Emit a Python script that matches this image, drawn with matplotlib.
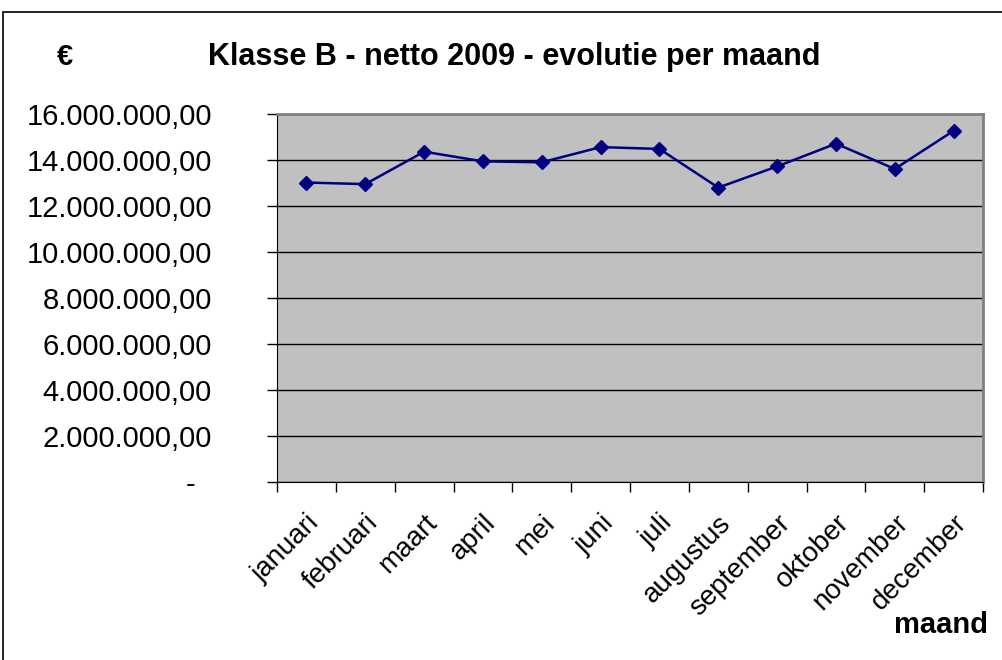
import matplotlib.pyplot as plt
from matplotlib.ticker import FuncFormatter, FixedLocator

plt.rcParams['font.family'] = ['Liberation Sans', 'DejaVu Sans']

maanden = ['januari', 'februari', 'maart', 'april', 'mei', 'juni', 'juli',
           'augustus', 'september', 'oktober', 'november', 'december']
netto = [13020000, 12950000, 14360000, 13940000, 13900000, 14560000,
         14480000, 12800000, 13720000, 14710000, 13610000, 15270000]
y_ticks = [0, 2000000, 4000000, 6000000, 8000000, 10000000, 12000000, 14000000, 16000000]


def euro_fmt(v, pos):
    # excel accounting style: 16.000.000,00 and "-" for zero
    if v == 0:
        return '-  '
    s = '{:,.2f}'.format(v)
    return s.replace(',', 'X').replace('.', ',').replace('X', '.')


fig = plt.figure(figsize=(10.03, 6.6), dpi=100)
# outer chart border
fig.patches.append(plt.Rectangle((0.003, -0.01), 1.2, 0.992, transform=fig.transFigure,
                                 fill=False, edgecolor='black', linewidth=1.2))

ax = fig.add_axes([0.2762, 0.2697, 0.7039, 0.5576])
ax.set_facecolor('#c0c0c0')
x = list(range(len(maanden)))
ax.plot(x, netto, color='#000080', linewidth=1.8, marker='D', markersize=7.5, zorder=3)

ax.set_xlim(-0.5, len(maanden) - 0.5)
ax.set_ylim(0, 16000000)
ax.set_yticks(y_ticks)
ax.yaxis.set_major_formatter(FuncFormatter(euro_fmt))
ax.yaxis.grid(True, color='black', linewidth=1)
ax.set_axisbelow(True)

ax.xaxis.set_major_locator(FixedLocator([i - 0.5 for i in range(len(maanden) + 1)]))
ax.xaxis.set_major_formatter(FuncFormatter(lambda v, p: ''))
ax.xaxis.set_minor_locator(FixedLocator(x))
ax.set_xticklabels(maanden, minor=True, rotation=45, ha='right', rotation_mode='anchor')
ax.tick_params(axis='x', which='major', length=7, width=1, direction='out', color='black')
ax.tick_params(axis='x', which='minor', length=0, pad=20, labelsize=20)
ax.tick_params(axis='y', length=7, width=1, direction='out', labelsize=21, pad=40)

for side in ['top', 'right']:
    ax.spines[side].set_color('#808080')
    ax.spines[side].set_linewidth(2)
ax.spines['left'].set_color('black')
ax.spines['bottom'].set_color('black')

fig.text(0.5125, 0.9015, 'Klasse B - netto 2009 - evolutie per maand', ha='center', va='baseline',
         fontsize=22, fontweight='bold')
fig.text(0.065, 0.9015, '€', ha='center', va='baseline', fontsize=21, fontweight='bold')
fig.text(0.985, 0.041, 'maand', ha='right', va='baseline', fontsize=21, fontweight='bold')

fig.savefig('out.png', dpi=100)
